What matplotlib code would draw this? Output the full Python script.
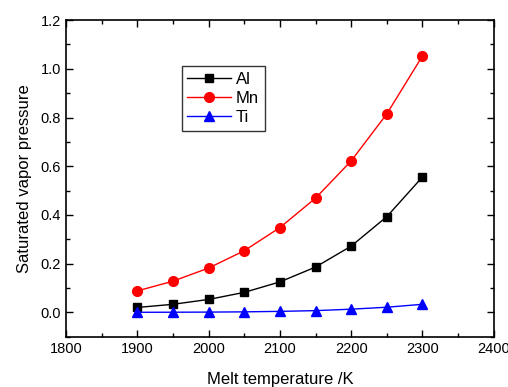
import matplotlib.pyplot as plt
from matplotlib.ticker import MultipleLocator

plt.rcParams['font.family'] = ['Liberation Sans', 'DejaVu Sans']

# Data
temps = [1900, 1950, 2000, 2050, 2100, 2150, 2200, 2250, 2300]
al = [0.020, 0.033, 0.053, 0.082, 0.125, 0.186, 0.272, 0.393, 0.556]
mn = [0.088, 0.128, 0.182, 0.253, 0.348, 0.469, 0.622, 0.815, 1.053]
ti = [0.0002, 0.0005, 0.001, 0.002, 0.004, 0.007, 0.013, 0.021, 0.033]

fig = plt.figure(figsize=(5.08, 3.87), dpi=100)
ax = fig.add_axes([0.130, 0.130, 0.842, 0.818])

ax.plot(temps, al, color='black', marker='s', markersize=6, linewidth=1, label='Al')
ax.plot(temps, mn, color='red', marker='o', markersize=7, linewidth=1, label='Mn')
ax.plot(temps, ti, color='blue', marker='^', markersize=7, linewidth=1, label='Ti')

ax.set_xlim(1800, 2400)
ax.set_ylim(-0.1, 1.2)
ax.xaxis.set_major_locator(MultipleLocator(100))
ax.xaxis.set_minor_locator(MultipleLocator(50))
ax.yaxis.set_major_locator(MultipleLocator(0.2))
ax.yaxis.set_minor_locator(MultipleLocator(0.1))
ax.yaxis.set_major_formatter(plt.FormatStrFormatter('%.1f'))
ax.tick_params(which='both', direction='in', top=True, right=True, labelsize=10.5, colors='black')
ax.tick_params(which='major', length=5, width=1)
ax.tick_params(which='minor', length=3, width=1)
for s in ax.spines.values():
    s.set_linewidth(1.2)

ax.set_xlabel('Melt temperature /K', fontsize=12, labelpad=12)
ax.set_ylabel('Saturated vapor pressure', fontsize=12, labelpad=6)

leg = ax.legend(loc='upper left', bbox_to_anchor=(0.27, 0.855), fontsize=12,
                frameon=True, fancybox=False, edgecolor='black', handlelength=2.6,
                borderpad=0.35, labelspacing=0.25, handletextpad=0.3, borderaxespad=0)
leg.get_frame().set_linewidth(1)

fig.savefig('out.png', dpi=100)
